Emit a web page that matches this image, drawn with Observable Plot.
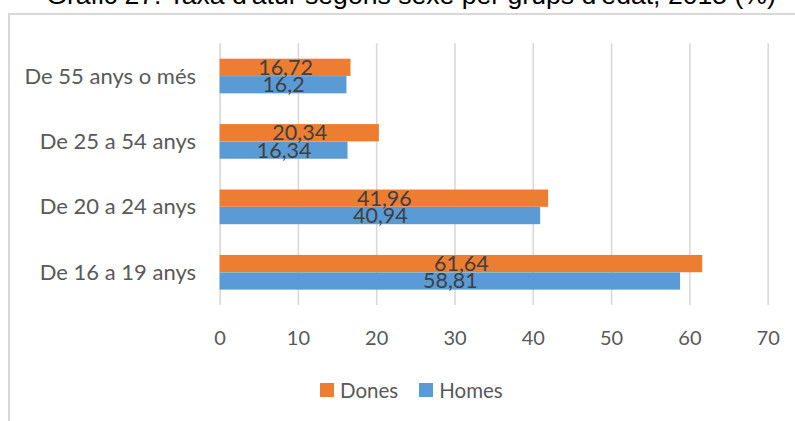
<!DOCTYPE html>
<html><head><meta charset="utf-8">
<script src="https://cdn.jsdelivr.net/npm/d3@7"></script>
<script src="https://cdn.jsdelivr.net/npm/@observablehq/plot@0.6"></script>
<style>
body{margin:0;background:#fff;}
#wrap{position:relative;width:795px;height:421px;overflow:hidden;background:#fff;}
#frame{position:absolute;left:8px;top:13px;width:900px;height:500px;border:2px solid #d9d9d9;box-sizing:border-box;}
#title{position:absolute;left:0;top:-18px;width:822px;text-align:center;white-space:nowrap;font-family:"Liberation Sans",Arial,sans-serif;font-size:26.6px;line-height:1;color:#000;}
#chart{position:absolute;left:0;top:0;}
#legend{position:absolute;left:320px;top:378px;display:flex;align-items:center;font-family:Lato,sans-serif;font-size:20.5px;color:#595959;line-height:24px;}
#legend .sw{width:14px;height:14px;display:inline-block;margin-right:6px;}
#legend .item{display:flex;align-items:center;margin-right:21px;}
</style></head>
<body><div id="wrap">
<div id="frame"></div>
<div id="title">Gràfic 27. Taxa d'atur segons sexe per grups d'edat, 2015 (%)</div>
<div id="chart"></div>
<div id="legend"></div>
</div>
<script>
const categories = ["De 55 anys o més", "De 25 a 54 anys", "De 20 a 24 anys", "De 16 a 19 anys"];
const series = ["Dones", "Homes"];
const dones = [16.72, 20.34, 41.96, 61.64];
const homes = [16.2, 16.34, 40.94, 58.81];
const xTicks = [0, 10, 20, 30, 40, 50, 60, 70];
const colors = ["#ED7D31", "#5B9BD5"];

const donesData = categories.map((c, i) => ({cat: c, sex: "Dones", value: dones[i]}));
const homesData = categories.map((c, i) => ({cat: c, sex: "Homes", value: homes[i]}));
const fmt = v => String(v).replace(".", ",");

const plot = Plot.plot({
  width: 795, height: 421,
  marginLeft: 219.6, marginRight: 27.3, marginTop: 43.3, marginBottom: 116,
  style: {fontFamily: "Lato, sans-serif", fontSize: "20px", color: "#595959", background: "transparent", overflow: "visible"},
  x: {domain: [0, 70], ticks: xTicks, label: null},
  y: {domain: categories, paddingInner: 0.47, paddingOuter: 0.235, round: false, label: null},
  color: {domain: series, range: colors},
  marks: [
    Plot.ruleX(xTicks, {stroke: "#d9d9d9", strokeWidth: 1.6}),
    Plot.axisX({ticks: xTicks, tickSize: 0, tickPadding: 25, label: null, fill: "#595959", fontSize: 20}),
    Plot.axisY({tickSize: 0, tickPadding: 24, label: null, fill: "#595959", fontSize: 22}),
    Plot.barX(donesData, {y: "cat", x1: d => 0, x2: "value", fill: "sex", insetBottom: 17.4}),
    Plot.barX(homesData, {y: "cat", x1: d => 0, x2: "value", fill: "sex", insetTop: 17.4}),
    Plot.text(donesData, {y: "cat", x: d => d.value / 2, text: d => fmt(d.value), dy: -8.7, fill: "#404040", fontSize: 21.5}),
    Plot.text(homesData, {y: "cat", x: d => d.value / 2, text: d => fmt(d.value), dy: 8.7, fill: "#404040", fontSize: 21.5})
  ]
});
document.getElementById("chart").appendChild(plot);

const legend = document.getElementById("legend");
series.forEach((s, i) => {
  const item = document.createElement("div");
  item.className = "item";
  const sw = document.createElement("span");
  sw.className = "sw";
  sw.style.background = colors[i];
  const t = document.createElement("span");
  t.textContent = s;
  item.appendChild(sw); item.appendChild(t);
  legend.appendChild(item);
});
</script>
</body></html>
